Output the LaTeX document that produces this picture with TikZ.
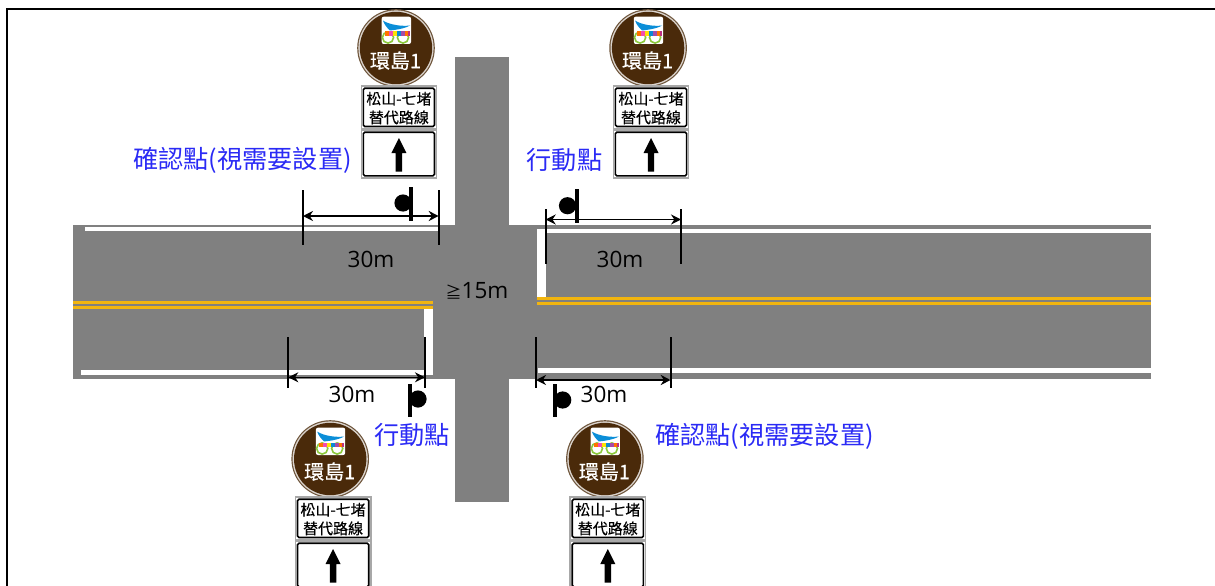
\documentclass[tikz,border=0pt]{standalone}
\usepackage{fontspec}
\setmainfont{Open Sans}
\newfontfamily\cjk{Noto Sans CJK TC}
\newfontfamily\cjkheavy[FakeBold=0.35]{Noto Sans CJK TC}
\usetikzlibrary{arrows.meta}
\definecolor{roadgrey}{HTML}{808080}
\definecolor{laneyellow}{HTML}{F2B50F}
\definecolor{signbrown}{HTML}{4A2A0A}
\definecolor{labelblue}{HTML}{2A2AF5}
\definecolor{plategrey}{HTML}{A8A8A8}
\definecolor{wheelgreen}{HTML}{8CC83C}
\tikzset{
  road/.style={fill=roadgrey,draw=none},
  whiteline/.style={fill=white,draw=none},
  yellowline/.style={fill=laneyellow,draw=none},
  tick/.style={draw=black,line width=1.8pt},
  dimline/.style={draw=black,line width=1.6pt,{Stealth[length=10pt,width=10pt]}-{Stealth[length=10pt,width=10pt]}},
  postbar/.style={draw=black,line width=4pt},
  dimtext/.style={font=\fontsize{22.5}{25}\selectfont,text=black,inner sep=0pt},
  bluetext/.style={font=\cjk\fontsize{25.2}{28}\selectfont,text=labelblue,inner sep=0pt},
  platetext/.style={font=\cjkheavy\fontsize{15}{16}\selectfont,text=black,inner sep=0pt},
  routetext/.style={font=\cjkheavy\fontsize{20}{22}\selectfont,text=white,inner sep=0pt},
  plate/.style={draw=black,line width=1.6pt,fill=white,rounded corners=1.5pt},
  plateedge/.style={draw=plategrey,line width=1.2pt,fill=white},
  bikesign/.pic={
    \begin{scope}[xshift=-2.9pt]
    % round route sign
    \fill[signbrown!80!white] (0,0) circle[radius=38.8];
    \fill[white!80!signbrown] (0,0) circle[radius=37.6];
    \fill[signbrown] (0,0) circle[radius=36.2];
    \fill[white,rounded corners=2pt] (-14.3,-31.3) rectangle (15,-4);
    % logo: swoosh
    \fill[cyan!75!blue] (-13,-27.4) .. controls (-6,-23) and (6,-21.5) .. (14,-22.5)
       .. controls (8,-19) and (-2,-18) .. (-6,-17.5) .. controls (-9,-20) and (-12,-24) .. (-13,-27.4) -- cycle;
    % logo: wheels
    \draw[wheelgreen,line width=1.6pt] (-8,-10.5) circle[radius=5.6];
    \draw[wheelgreen,line width=1.6pt] (7,-10.5) circle[radius=5.6];
    % logo: rainbow band
    \fill[orange!90!red] (-11,-16.5) rectangle (-7,-12);
    \fill[magenta!70!white] (-7,-16.5) rectangle (-3,-12);
    \fill[yellow!85!orange] (-3,-16.5) rectangle (1,-12);
    \fill[cyan!70!blue] (1,-16.5) rectangle (5,-12);
    \fill[violet!70!white] (5,-16.5) rectangle (9,-12);
    \fill[orange!90!red] (9,-16.5) rectangle (12,-12);
    \fill[magenta!50!violet] (12,-16.5) rectangle (14,-12);
    \node[routetext] (route) at (-0.5,12.6) {環島1};
    \end{scope}
    % destination plate
    \path[plateedge] (-37.8,38) rectangle (37.8,80.7);
    \path[plate] (-35.6,40.2) rectangle (35.6,78.5);
    \node[platetext] (line1) at (0,50.7) {松山-七堵};
    \node[platetext] (line2) at (0,69.4) {替代路線};
    % arrow plate
    \path[plateedge] (-37.8,82) rectangle (37.8,130);
    \path[plate] (-35.6,84.2) rectangle (35.6,127.8);
    \fill[black] (0,90) -- (7.5,105) -- (3.2,105) -- (3.2,123.7) -- (-3.2,123.7) -- (-3.2,105) -- (-7.5,105) -- cycle;
  }
}
\begin{document}
\begin{tikzpicture}[x=1pt,y=-1pt]
\useasboundingbox (0,0) rectangle (1215,586);
% frame
\draw[black,line width=2pt] (7,586) -- (7,9) -- (1215,9);
% roads
\path[road] (73,225) rectangle (1151,379);
\path[road] (455,57) rectangle (509,502);
% edge lines, left approach
\path[whiteline] (85,226.5) rectangle (438,231);
\path[whiteline] (81,370) rectangle (432.7,374.5);
\path[whiteline] (424,308) rectangle (432.7,374.5);
% edge lines, right approach
\path[whiteline] (545,229.3) rectangle (1151,233);
\path[whiteline] (537.5,368) rectangle (1151,372.7);
\path[whiteline] (537.3,229.3) rectangle (545.7,298);
% centre lines
\path[yellowline] (73,301.3) rectangle (432.7,304.2);
\path[yellowline] (73,306.3) rectangle (432.7,309.2);
\path[yellowline] (537.3,297.4) rectangle (1151,300.3);
\path[yellowline] (537.3,302.4) rectangle (1151,305.3);
% dimensions
\coordinate (tlA) at (303,190); \coordinate (tlAe) at (303,245);
\coordinate (tlB) at (438.7,190); \coordinate (tlBe) at (438.7,245);
\coordinate (tlL) at (303,216); \coordinate (tlR) at (438.7,216);
\draw[tick] (tlA) -- (tlAe); \draw[tick] (tlB) -- (tlBe); \draw[dimline] (tlL) -- (tlR);
\coordinate (trA) at (545.7,209); \coordinate (trAe) at (545.7,263.5);
\coordinate (trB) at (681,209); \coordinate (trBe) at (681,263.5);
\coordinate (trL) at (545.7,219.5); \coordinate (trR) at (681,219.5);
\draw[tick] (trA) -- (trAe); \draw[tick] (trB) -- (trBe); \draw[dimline] (trL) -- (trR);
\coordinate (blA) at (288.3,337); \coordinate (blAe) at (288.3,388);
\coordinate (blB) at (425,337); \coordinate (blBe) at (425,388);
\coordinate (blL) at (288.3,377.3); \coordinate (blR) at (425,377.3);
\draw[tick] (blA) -- (blAe); \draw[tick] (blB) -- (blBe); \draw[dimline] (blL) -- (blR);
\coordinate (brA) at (536,337); \coordinate (brAe) at (536,388);
\coordinate (brB) at (670.7,337); \coordinate (brBe) at (670.7,388);
\coordinate (brL) at (536,380); \coordinate (brR) at (670.7,380);
\draw[tick] (brA) -- (brAe); \draw[tick] (brB) -- (brBe); \draw[dimline] (brL) -- (brR);
% posts
\fill[black] (403,203) circle[radius=8.6]; \draw[postbar] (411.3,187) -- (411.3,220.5);
\fill[black] (567.5,205.7) circle[radius=8.6]; \draw[postbar] (576.7,189) -- (576.7,223);
\fill[black] (418,399) circle[radius=8.6]; \draw[postbar] (410,384) -- (410,417);
\fill[black] (562.7,400) circle[radius=8.6]; \draw[postbar] (554.7,384) -- (554.7,417);
% dimension text
\node[dimtext] (d1) at (371,259) {30m};
\node[dimtext] (d2) at (620,259) {30m};
\node[dimtext] (d3) at (352,394) {30m};
\node[dimtext] (d4) at (604,394) {30m};
\node[dimtext] (gap) at (477,291) {{\cjk\fontsize{16}{18}\selectfont ≧}15m};
% blue labels
\node[bluetext] (c1) at (242.5,160) {確認點(視需要設置)};
\node[bluetext] (a1) at (564.5,160) {行動點};
\node[bluetext] (a2) at (412,435) {行動點};
\node[bluetext] (c2) at (764.5,436) {確認點(視需要設置)};
% signs
\pic (s1) at (398.9,48) {bikesign};
\pic (s2) at (651,48) {bikesign};
\pic (s3) at (333.1,459) {bikesign};
\pic (s4) at (607.8,459) {bikesign};
\end{tikzpicture}
\end{document}
